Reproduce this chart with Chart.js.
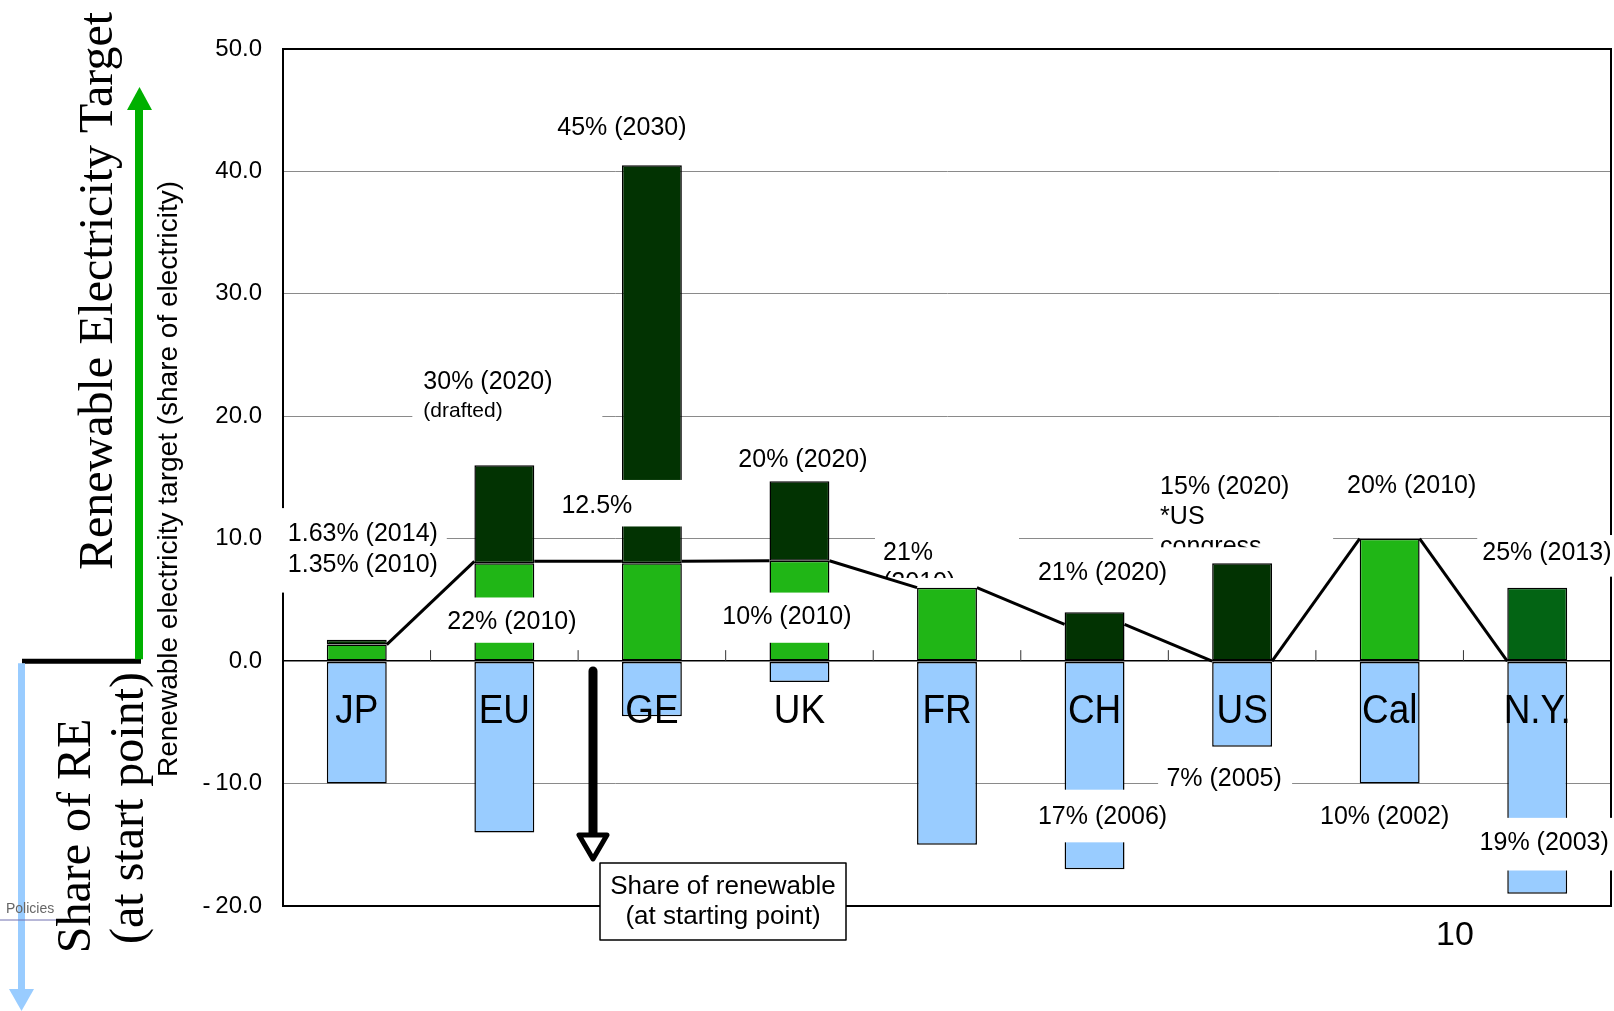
<!DOCTYPE html>
<html lang="en">
<head>
<meta charset="UTF-8">
<title>Renewable Electricity Target</title>
<script src="https://cdn.jsdelivr.net/npm/chart.js@4.4.1/dist/chart.umd.min.js"></script>
<style>
    * { margin: 0; padding: 0; box-sizing: border-box; }
    body { background: #fff; width: 1614px; height: 1011px; overflow: hidden; }
    #wrap { position: relative; width: 1614px; height: 1011px; }
</style>
</head>
<body>
<div id="wrap"><canvas id="chart" width="1614" height="1011"></canvas></div>
<script>
    // ---- data ----
    const categories = ['JP', 'EU', 'GE', 'UK', 'FR', 'CH', 'US', 'Cal', 'N.Y.'];
    const startShare = [-10, -14, -4.5, -1.7, -15, -17, -7, -10, -19];      // light blue, below zero
    const targetBase = [1.35, 8, 8, 8.2, 6, null, null, 10, null];          // bright green
    const targetAdded = [0.4, 8, 32.5, 6.5, null, 4, 8, null, 6];           // dark green, stacked on top
    const seriesLine = [1.35, 8.15, 8.15, 8.2, 6, 3, 0, 10, 0];             // black connector line
    const yTicks = [-20, -10, 0, 10, 20, 30, 40, 50];
    const targetLabels = ['1.63% (2014)', '30% (2020)\n(drafted)', '45% (2030)', '20% (2020)', '21%\n(2010)',
        '21% (2020)', '15% (2020)\n*US\ncongress', '20% (2010)', '25% (2013)'];
    const startLabels = ['1.35% (2010)', '22% (2010)', '12.5%', '10% (2010)', '',
        '17% (2006)', '7% (2005)', '10% (2002)', '19% (2003)'];

    // ---- label placement (dx px from category centre, v = axis value, box = [dx0, dx1, vTop, vBottom]) ----
    const targetLayout = [
        { align: 'left', dx: -69, v: 10.4, box: [-76, 90, 12.5, 5.6] },
        { align: 'left', dx: -81, v: 22.8, gap: 29, sizes: [25, 21], box: [-92, 98, 23.9, 19.3] },
        { align: 'center', dx: -30, v: 43.5 },
        { align: 'center', dx: 3.5, v: 16.4 },
        { align: 'left', dx: -64, v: 8.8, box: [-72, 72, 10.3, 6.8], clip: true },
        { align: 'center', dx: 8, v: 7.2 },
        { align: 'left', dx: -82, v: 14.2, box: [-89, 91, 15.8, 9.3], clip: true },
        { align: 'center', dx: 22, v: 14.3 },
        { align: 'left', dx: -55, v: 8.8, box: [-60, 77, 10.3, 6.9] }
    ];
    const startLayout = [
        { align: 'left', dx: -69, v: 7.85 },
        { align: 'center', dx: 7.6, v: 3.2, box: [-57, 74, 5.2, 1.5] },
        { align: 'center', dx: -55, v: 12.7, box: [-112, 33, 14.8, 11.0] },
        { align: 'center', dx: -12.5, v: 3.6, box: [-75, 52, 5.6, 1.5] },
        null,
        { align: 'center', dx: 8, v: -12.7, box: [-66, 84, -10.5, -14.8] },
        { align: 'center', dx: -18, v: -9.6, box: [-84, 50, -8.65, -10.8] },
        { align: 'center', dx: -5, v: -12.7 },
        { align: 'center', dx: 7, v: -14.9, box: [-60, 77, -12.8, -17.1] }
    ];

    const SANS = '"Liberation Sans", Arial, sans-serif';
    const SERIF = '"Liberation Serif", "Times New Roman", serif';

    // text with an optional horizontal squeeze (the slide uses a narrow face)
    function text(ctx, s, x, y, size, align, sx) {
        ctx.save();
        ctx.translate(x, y);
        ctx.scale(sx || 1, 1);
        ctx.font = size + 'px ' + SANS;
        ctx.fillStyle = '#000';
        ctx.textAlign = align || 'center';
        ctx.textBaseline = 'middle';
        ctx.fillText(s, 0, 0);
        ctx.restore();
    }

    function vtext(ctx, s, x, y, font, color) {
        ctx.save();
        ctx.translate(x, y);
        ctx.rotate(-Math.PI / 2);
        ctx.font = font;
        ctx.fillStyle = color;
        ctx.textAlign = 'center';
        ctx.textBaseline = 'alphabetic';
        ctx.fillText(s, 0, 0);
        ctx.restore();
    }

    const overlay = {
        id: 'overlay',
        afterDatasetsDraw(chart) {
            const { ctx, chartArea: a, scales: { x, y } } = chart;
            const bars = chart.getDatasetMeta(0).data;
            const y0 = y.getPixelForValue(0);
            ctx.save();

            // frame of the plot
            ctx.strokeStyle = '#000';
            ctx.lineWidth = 2;
            ctx.strokeRect(a.left, a.top, a.right - a.left, a.bottom - a.top);

            // small category ticks on the zero line
            ctx.lineWidth = 1;
            ctx.strokeStyle = '#333';
            for (let i = 0; i < categories.length - 1; i++) {
                const bx = (x.getPixelForValue(i) + x.getPixelForValue(i + 1)) / 2;
                ctx.beginPath();
                ctx.moveTo(bx, y0);
                ctx.lineTo(bx, y0 - 11);
                ctx.stroke();
            }

            // white label boxes
            const all = [];
            categories.forEach((c, i) => {
                if (targetLayout[i]) all.push([targetLabels[i], targetLayout[i], i]);
                if (startLayout[i] && startLabels[i]) all.push([startLabels[i], startLayout[i], i]);
            });
            ctx.fillStyle = '#fff';
            all.forEach(([s, l, i]) => {
                if (!l.box) return;
                const cx = x.getPixelForValue(i);
                const t = y.getPixelForValue(l.box[2]), b = y.getPixelForValue(l.box[3]);
                ctx.fillRect(cx + l.box[0], t, l.box[1] - l.box[0], b - t);
            });

            // connector line between bar tops
            ctx.strokeStyle = '#000';
            ctx.lineWidth = 3;
            for (let i = 0; i < seriesLine.length - 1; i++) {
                const p = bars[i], q = bars[i + 1];
                ctx.beginPath();
                ctx.moveTo(p.x + p.width / 2, y.getPixelForValue(seriesLine[i]));
                ctx.lineTo(q.x - q.width / 2, y.getPixelForValue(seriesLine[i + 1]));
                ctx.stroke();
            }

            // label texts
            all.forEach(([s, l, i]) => {
                const cx = x.getPixelForValue(i);
                ctx.save();
                if (l.clip) {
                    const t = y.getPixelForValue(l.box[2]), b = y.getPixelForValue(l.box[3]);
                    ctx.beginPath();
                    ctx.rect(cx + l.box[0], t, l.box[1] - l.box[0], b - t);
                    ctx.clip();
                }
                s.split('\n').forEach((line, k) => {
                    const size = l.sizes ? l.sizes[k] : 25;
                    text(ctx, line, cx + l.dx, y.getPixelForValue(l.v) + k * (l.gap || 30), size, l.align);
                });
                ctx.restore();
            });

            // category names sit inside the plot, under the zero line
            categories.forEach((c, i) => {
                text(ctx, c, x.getPixelForValue(i), y0 + 51, 41, 'center', 0.9);
            });
            ctx.restore();
        },
        afterDraw(chart) {
            const { ctx, scales: { y } } = chart;
            const y0 = y.getPixelForValue(0);
            ctx.save();

            // left-hand legend arrows
            ctx.strokeStyle = '#000';
            ctx.lineWidth = 5;
            ctx.beginPath(); ctx.moveTo(22, y0); ctx.lineTo(141, y0); ctx.stroke();

            ctx.strokeStyle = '#00B000';
            ctx.fillStyle = '#00B000';
            ctx.lineWidth = 8;
            ctx.beginPath(); ctx.moveTo(139, y0 - 2); ctx.lineTo(139, 106); ctx.stroke();
            ctx.beginPath(); ctx.moveTo(127, 110); ctx.lineTo(152, 110); ctx.lineTo(139.5, 87); ctx.closePath(); ctx.fill();

            ctx.strokeStyle = '#99CCFF';
            ctx.fillStyle = '#99CCFF';
            ctx.lineWidth = 7;
            ctx.beginPath(); ctx.moveTo(21.5, y0 + 2); ctx.lineTo(21.5, 992); ctx.stroke();
            ctx.beginPath(); ctx.moveTo(9, 989); ctx.lineTo(34, 989); ctx.lineTo(21.5, 1011); ctx.closePath(); ctx.fill();

            // little "Policies" footer fragment
            ctx.strokeStyle = '#7070b0';
            ctx.lineWidth = 1;
            ctx.beginPath(); ctx.moveTo(0, 920); ctx.lineTo(56, 920); ctx.stroke();
            ctx.font = '14px ' + SANS;
            ctx.fillStyle = '#666';
            ctx.textAlign = 'left';
            ctx.textBaseline = 'middle';
            ctx.fillText('Policies', 6, 909);

            // rotated titles
            vtext(ctx, 'Renewable Electricity Target', 112, 291, '48px ' + SERIF, '#000');
            vtext(ctx, 'Share of RE', 90, 836, '48px ' + SERIF, '#000');
            vtext(ctx, '(at start point)', 143, 808, '48px ' + SERIF, '#000');
            vtext(ctx, 'Renewable electricity target (share of electricity)', 177, 479, '28px ' + SANS, '#000');

            // arrow pointing to the call-out box
            ctx.strokeStyle = '#000';
            ctx.lineWidth = 9;
            ctx.lineCap = 'round';
            ctx.beginPath(); ctx.moveTo(593, 671); ctx.lineTo(593, 834); ctx.stroke();
            ctx.lineCap = 'butt';
            ctx.lineWidth = 5;
            ctx.lineJoin = 'round';
            ctx.fillStyle = '#fff';
            ctx.beginPath(); ctx.moveTo(579, 835); ctx.lineTo(607, 835); ctx.lineTo(593, 859); ctx.closePath();
            ctx.fill(); ctx.stroke();

            // call-out box
            ctx.fillStyle = '#fff';
            ctx.fillRect(600, 863, 246, 77);
            ctx.lineWidth = 1.5;
            ctx.strokeRect(600, 863, 246, 77);
            text(ctx, 'Share of renewable', 723, 887, 26, 'center');
            text(ctx, '(at starting point)', 723, 917, 26, 'center');

            // page number
            text(ctx, '10', 1455, 936, 34, 'center');
            ctx.restore();
        }
    };

    new Chart(document.getElementById('chart'), {
        type: 'bar',
        data: {
            labels: categories,
            datasets: [
                { label: 'Share of RE at start', data: startShare, backgroundColor: '#99CCFF' },
                { label: 'Target (achieved part)', data: targetBase, backgroundColor: '#20B616' },
                {
                    label: 'Target (remaining)', data: targetAdded,
                    backgroundColor: categories.map(c => c === 'N.Y.' ? '#036414' : '#023302')
                }
            ]
        },
        options: {
            responsive: false,
            animation: false,
            layout: { padding: { top: 49, right: 3, bottom: 105, left: 0 } },
            datasets: {
                bar: {
                    borderColor: '#000',
                    borderWidth: 1.5,
                    borderSkipped: false,
                    barPercentage: 0.406,
                    categoryPercentage: 1
                }
            },
            plugins: { legend: { display: false }, tooltip: { enabled: false } },
            scales: {
                x: { stacked: true, display: false },
                y: {
                    stacked: true,
                    min: -20,
                    max: 50,
                    afterFit: s => { s.width = 283; },
                    afterBuildTicks: s => { s.ticks = yTicks.map(v => ({ value: v })); },
                    border: { color: '#000', width: 2 },
                    grid: {
                        drawTicks: false,
                        color: c => (c.tick && c.tick.value === 0 ? '#000' : '#8a8a8a'),
                        lineWidth: c => (c.tick && c.tick.value === 0 ? 1.5 : 1)
                    },
                    ticks: {
                        padding: 21,
                        color: '#000',
                        font: { family: SANS, size: 24 },
                        callback: v => (v < 0 ? '-\u2009' + Math.abs(v).toFixed(1) : v.toFixed(1))
                    }
                }
            }
        },
        plugins: [overlay]
    });
</script>
</body>
</html>
